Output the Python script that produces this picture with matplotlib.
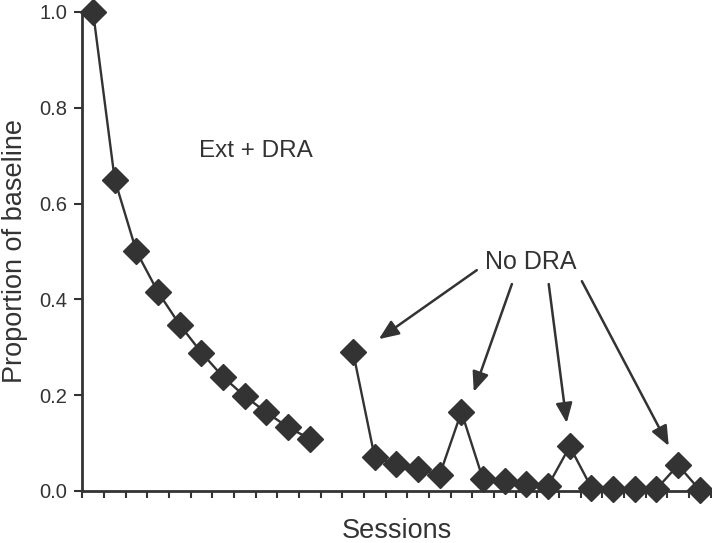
import matplotlib
matplotlib.use("Agg")
import matplotlib.pyplot as plt

plt.rcParams['font.family'] = ['Liberation Sans', 'DejaVu Sans']

# sessions and proportion of baseline
ext_x = list(range(1, 12))
ext_y = [1.0, 0.65, 0.5, 0.415, 0.347, 0.289, 0.238, 0.198, 0.164, 0.133, 0.109]
nodra_x = list(range(13, 30))
nodra_y = [0.29, 0.07, 0.056, 0.045, 0.034, 0.165, 0.024, 0.02, 0.015, 0.011,
           0.093, 0.007, 0.005, 0.005, 0.004, 0.054, 0.002]
yticks = [0.0, 0.2, 0.4, 0.6, 0.8, 1.0]
arrow_starts = [(18.71, 0.461), (20.33, 0.432), (22.03, 0.432), (23.56, 0.438)]
arrow_targets = [(14.19, 0.317), (18.57, 0.207), (22.86, 0.142), (27.57, 0.094)]

col = '#333333'
fig = plt.figure(figsize=(7.12, 5.43), dpi=100)
ax = fig.add_axes([0.1155, 0.0958, 0.8825, 0.8822])

for xs, ys in [(ext_x, ext_y), (nodra_x, nodra_y)]:
    ax.plot(xs, ys, color=col, lw=1.7, marker='D', ms=13.5, mfc=col, mec=col,
            clip_on=False, zorder=3)

ax.set_xlim(0.5, 29.5)
ax.set_ylim(0, 1.0)
ax.set_xticks([i + 0.5 for i in range(0, 30)])
ax.set_xticklabels([])
ax.set_yticks(yticks)
ax.set_yticklabels([f'{v:.1f}' for v in yticks])

for s in ['top', 'right']:
    ax.spines[s].set_visible(False)
for s in ['left', 'bottom']:
    ax.spines[s].set_linewidth(2.0)
    ax.spines[s].set_color(col)
ax.tick_params(axis='both', direction='out', color=col, width=1.5,
               labelcolor=col, labelsize=14.5)
ax.tick_params(axis='y', length=6, pad=5)
ax.tick_params(axis='x', length=5)

ax.set_ylabel('Proportion of baseline', fontsize=19.5, color=col, labelpad=8)
ax.set_xlabel('Sessions', fontsize=19.5, color=col, labelpad=11)

ax.text(8.52, 0.709, 'Ext + DRA', fontsize=17.5, color=col, ha='center', va='center')
ax.text(21.2, 0.479, 'No DRA', fontsize=18, color=col, ha='center', va='center')
for (sx, sy), (tx, ty) in zip(arrow_starts, arrow_targets):
    ax.annotate('', xy=(tx, ty), xytext=(sx, sy),
                arrowprops=dict(arrowstyle='-|>,head_length=1.2,head_width=0.5',
                                color=col, lw=1.8, shrinkA=0, shrinkB=0))

fig.savefig('out.png', dpi=100)
